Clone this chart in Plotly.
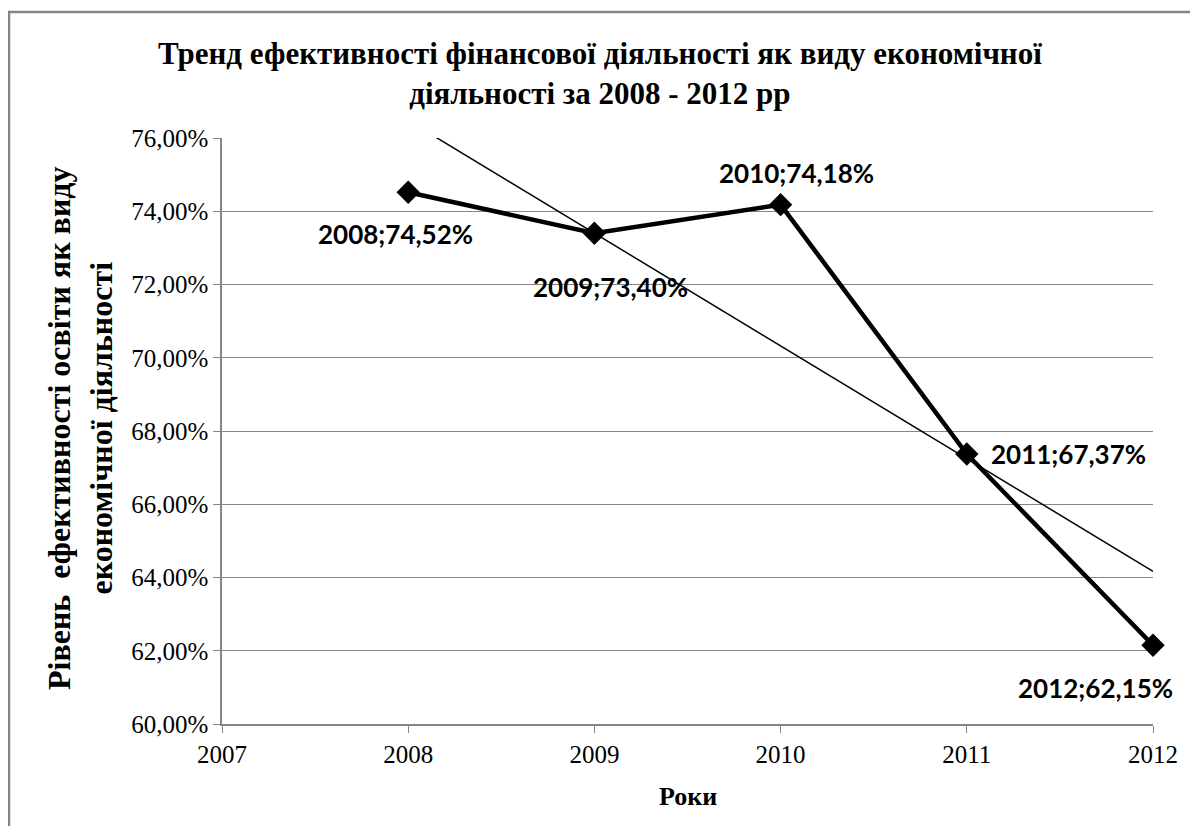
import numpy as np
import plotly.graph_objects as go

years = [2008, 2009, 2010, 2011, 2012]
values = [74.52, 73.40, 74.18, 67.37, 62.15]
y_ticks = [60, 62, 64, 66, 68, 70, 72, 74, 76]
y_tick_text = [f"{v:.2f}%".replace(".", ",") for v in y_ticks]
x_ticks = [2007, 2008, 2009, 2010, 2011, 2012]

title_text = ("Тренд ефективності фінансової діяльності як виду економічної<br>"
              "діяльності за 2008 - 2012 рр")
y_title = "Рівень  ефективності освіти як виду<br>економічної діяльності"
x_title = "Роки"

# label offsets (pixels) relative to each point
label_dx = [-13, 16, 16, 102, -58]
label_dy = [42, 54, -32, 0, 43]

# linear trendline (least squares on data)
slope, intercept = np.polyfit(years, values, 1)
trend_x = [2007, 2012]
trend_y = [slope * xx + intercept for xx in trend_x]

OFF = 8  # page body margin
W, H = 1182, 818
L, R, T, B = 214, 37, 130, 102
pw, ph = W - L - R, H - T - B


def px(sx):
    return (sx - OFF - L) / pw


def py(sy):
    return (H - B - (sy - OFF)) / ph


fig = go.Figure()
fig.add_trace(go.Scatter(x=trend_x, y=trend_y, mode="lines",
                         line=dict(color="black", width=1.5),
                         hoverinfo="skip", cliponaxis=True))
fig.add_trace(go.Scatter(x=years, y=values, mode="lines+markers",
                         line=dict(color="black", width=4.5),
                         marker=dict(symbol="diamond", size=18, color="black"),
                         cliponaxis=False))

for xx, yy, dx, dy in zip(years, values, label_dx, label_dy):
    fig.add_annotation(x=xx, y=yy, xref="x", yref="y",
                       text=f"{xx};{yy:.2f}%".replace(".", ","),
                       showarrow=False, xshift=dx, yshift=-dy,
                       xanchor="center", yanchor="middle",
                       font=dict(family="Lato", size=26, color="black", weight="bold"))

fig.add_annotation(xref="paper", yref="paper",
                   x=px(600), y=py(73), xanchor="center", yanchor="middle",
                   text=title_text, showarrow=False,
                   font=dict(family="Liberation Serif", size=31, color="black", weight="bold"))

fig.add_annotation(xref="paper", yref="paper",
                   x=px(80), y=py(428), xanchor="center", yanchor="middle",
                   textangle=-90,
                   text=y_title, showarrow=False,
                   font=dict(family="Liberation Serif", size=32, color="black", weight="bold"))

fig.add_annotation(xref="paper", yref="paper",
                   x=px(688), y=py(796), xanchor="center", yanchor="middle",
                   text=x_title, showarrow=False,
                   font=dict(family="Liberation Serif", size=26, color="black", weight="bold"))

# outer frame (top and left edges visible)
fig.add_shape(type="rect", xref="paper", yref="paper",
              x0=px(OFF + 1), x1=px(1230),
              y0=py(880), y1=py(12),
              line=dict(color="#858585", width=2.5), layer="below")

fig.update_layout(
    width=W, height=H,
    margin=dict(l=L, r=R, t=T, b=B),
    paper_bgcolor="white", plot_bgcolor="white",
    showlegend=False,
    xaxis=dict(range=[2007, 2012], tickvals=x_ticks, showgrid=False,
               showline=True, linecolor="#868686", linewidth=1.5,
               ticks="outside", ticklen=7, tickcolor="#868686",
               tickfont=dict(family="Liberation Serif", size=25, color="black"),
               zeroline=False),
    yaxis=dict(range=[60, 76], tickvals=y_ticks, ticktext=y_tick_text,
               showgrid=True, gridcolor="#868686", gridwidth=1.2,
               showline=True, linecolor="#868686", linewidth=1.5,
               ticks="outside", ticklen=7, tickcolor="#868686",
               tickfont=dict(family="Liberation Serif", size=25, color="black"),
               zeroline=False),
)

fig.write_html("out.html")
